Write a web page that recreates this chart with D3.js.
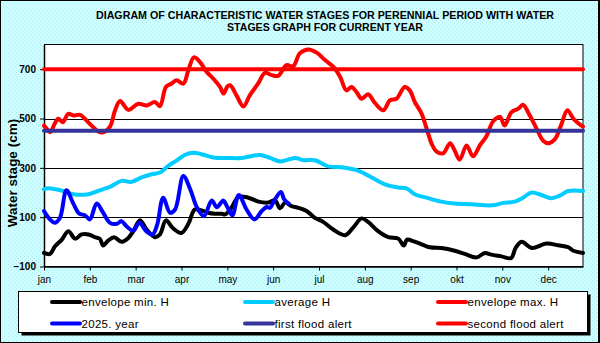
<!DOCTYPE html>
<html>
<head>
<meta charset="utf-8">
<script src="https://cdnjs.cloudflare.com/ajax/libs/d3/7.8.5/d3.min.js"></script>
<style>
  html, body { margin: 0; padding: 0; background: #fff; }
  svg { display: block; font-family: "Liberation Sans", Arial, sans-serif; }
</style>
</head>
<body>
<div id="chart"></div>
<script>
// month labels (tick at the start of each month)
const months = ["jan", "feb", "mar", "apr", "may", "jun", "jul", "aug", "sep", "okt", "nov", "dec"];

// [month position, water stage in cm]
const minH = [[0,-45],[0.13,-49],[0.24,-18],[0.39,9],[0.53,43],[0.68,13],[0.82,30],[0.97,30],[1.11,19],[1.22,12],[1.29,-15],[1.4,5],[1.53,19],[1.69,0],[1.84,16],[1.95,43],[2.09,87],[2.24,50],[2.42,19],[2.53,30],[2.66,87],[2.82,54],[3.0,36],[3.15,73],[3.29,131],[3.44,127],[3.58,118],[3.73,114],[3.88,114],[3.95,111],[4.09,138],[4.24,182],[4.46,179],[4.68,163],[4.89,159],[5.04,168],[5.15,136],[5.26,159],[5.4,145],[5.55,138],[5.73,125],[5.91,97],[6.09,81],[6.31,50],[6.57,27],[6.75,59],[6.93,95],[7.07,81],[7.29,43],[7.51,19],[7.73,13],[7.85,-15],[7.92,9],[8.05,3],[8.16,-4],[8.42,-22],[8.67,-25],[8.96,-36],[9.18,-49],[9.44,-63],[9.62,-45],[9.76,-52],[9.98,-59],[10.19,-66],[10.29,-25],[10.42,0],[10.64,-25],[10.96,-7],[11.22,-14],[11.44,-22],[11.55,-36],[11.76,-45]];

const avgH = [[0,213],[0.09,217],[0.42,206],[0.64,193],[0.97,193],[1.22,209],[1.44,223],[1.69,247],[1.91,243],[2.13,261],[2.35,274],[2.53,281],[2.71,308],[2.89,329],[3.08,353],[3.26,361],[3.48,353],[3.69,342],[4.02,340],[4.31,340],[4.71,352],[4.93,340],[5.15,326],[5.48,340],[5.66,331],[5.91,331],[6.2,306],[6.49,302],[6.86,288],[7.15,261],[7.44,233],[7.73,220],[7.91,217],[8.09,193],[8.38,177],[8.67,163],[8.96,155],[9.33,152],[9.62,148],[9.84,149],[10.02,158],[10.27,163],[10.45,179],[10.64,200],[10.85,190],[11.07,177],[11.25,187],[11.44,206],[11.76,206]];

const maxH = [[0,471],[0.06,458],[0.13,444],[0.24,481],[0.31,499],[0.41,485],[0.53,519],[0.64,512],[0.79,515],[0.89,499],[1.04,471],[1.19,447],[1.29,444],[1.44,467],[1.55,533],[1.66,571],[1.84,535],[2.06,560],[2.24,553],[2.42,567],[2.53,550],[2.66,628],[2.78,641],[2.89,655],[3.04,641],[3.15,696],[3.27,748],[3.4,730],[3.55,689],[3.69,662],[3.84,628],[3.92,601],[4.0,630],[4.06,635],[4.2,594],[4.35,549],[4.49,594],[4.68,644],[4.82,685],[4.97,676],[5.11,673],[5.29,716],[5.44,712],[5.58,764],[5.77,780],[5.95,767],[6.13,737],[6.31,710],[6.46,669],[6.6,614],[6.71,628],[6.82,607],[6.93,580],[7.07,598],[7.22,563],[7.4,533],[7.55,574],[7.69,580],[7.87,628],[7.98,614],[8.09,567],[8.24,519],[8.35,458],[8.46,397],[8.56,367],[8.71,359],[8.86,400],[8.96,370],[9.07,333],[9.22,391],[9.36,347],[9.51,391],[9.65,427],[9.8,489],[9.95,506],[10.05,472],[10.2,526],[10.35,540],[10.45,556],[10.6,512],[10.75,458],[10.89,410],[11.01,400],[11.15,417],[11.28,472],[11.42,533],[11.55,499],[11.65,482],[11.76,467]];

const year2025 = [[0,125],[0.13,91],[0.24,77],[0.35,98],[0.49,209],[0.64,155],[0.77,114],[0.89,108],[1.0,91],[1.15,155],[1.29,118],[1.44,77],[1.59,73],[1.69,84],[1.8,63],[1.95,46],[2.08,77],[2.23,43],[2.37,30],[2.47,70],[2.6,179],[2.75,118],[2.86,131],[3.04,267],[3.19,213],[3.34,138],[3.49,104],[3.66,168],[3.77,140],[3.91,168],[3.95,159],[4.01,138],[4.11,108],[4.25,190],[4.42,131],[4.59,91],[4.75,125],[4.86,141],[4.93,138],[5.02,166],[5.17,202],[5.24,172],[5.34,155]];

const firstAlert = 450;
const secondAlert = 700;

const yTicks = [-100, 100, 300, 500, 700];
const gridValues = [100, 300, 500, 700];

const W = 600, H = 343;
const plot = { left: 44, right: 583, top: 44.5, bottom: 266.5 };
const xEnd = 11.76;

const svg = d3.select("#chart").append("svg")
  .attr("width", W)
  .attr("height", H);

// speckled light cyan background
const defs = svg.append("defs");
const pat = defs.append("pattern")
  .attr("id", "speckle")
  .attr("width", 4).attr("height", 4)
  .attr("patternUnits", "userSpaceOnUse");
pat.append("rect").attr("width", 4).attr("height", 4).attr("fill", "#ccffff");
pat.append("rect").attr("x", 0).attr("y", 0).attr("width", 1).attr("height", 1).attr("fill", "#b2e6ec");
pat.append("rect").attr("x", 2).attr("y", 2).attr("width", 1).attr("height", 1).attr("fill", "#b2e6ec");

svg.append("rect")
  .attr("x", 0.5).attr("y", 0.5)
  .attr("width", W - 1.5).attr("height", H - 1)
  .attr("fill", "url(#speckle)")
  .attr("stroke", "#000")
  .attr("stroke-width", 1);
svg.append("line")
  .attr("x1", W - 1).attr("x2", W - 1).attr("y1", 0).attr("y2", H)
  .attr("stroke", "#000").attr("stroke-width", 2);

// title, two lines stretched to the header width
const title = svg.append("text")
  .attr("text-anchor", "middle")
  .attr("font-size", 10.5)
  .attr("font-weight", "bold")
  .attr("fill", "#000");
title.append("tspan").attr("x", 325).attr("y", 18.5)
  .attr("textLength", 458).attr("lengthAdjust", "spacingAndGlyphs")
  .text("DIAGRAM OF CHARACTERISTIC WATER STAGES FOR PERENNIAL PERIOD WITH WATER");
title.append("tspan").attr("x", 325).attr("y", 30.5)
  .attr("textLength", 196).attr("lengthAdjust", "spacingAndGlyphs")
  .text("STAGES GRAPH FOR CURRENT YEAR");

// scales
const x = d3.scaleLinear().domain([0, xEnd]).range([plot.left, plot.right]);
const y = d3.scaleLinear().domain([-100, 800]).range([plot.bottom, plot.top]);

// plot area
svg.append("rect")
  .attr("x", plot.left).attr("y", plot.top)
  .attr("width", plot.right - plot.left)
  .attr("height", plot.bottom - plot.top)
  .attr("fill", "#fff");

svg.append("g")
  .selectAll("line")
  .data(gridValues)
  .join("line")
  .attr("x1", plot.left).attr("x2", plot.right)
  .attr("y1", d => Math.round(y(d)) + 0.5)
  .attr("y2", d => Math.round(y(d)) + 0.5)
  .attr("stroke", "#000")
  .attr("stroke-width", 1);

svg.append("rect")
  .attr("x", plot.left + 0.5).attr("y", plot.top)
  .attr("width", plot.right - plot.left - 0.5)
  .attr("height", plot.bottom - plot.top)
  .attr("fill", "none")
  .attr("stroke", "#000")
  .attr("stroke-width", 1);

// axes
const xAxis = svg.append("g")
  .attr("transform", `translate(0,${plot.bottom})`)
  .call(d3.axisBottom(x)
    .tickValues(d3.range(months.length))
    .tickFormat(i => months[i])
    .tickSize(4)
    .tickSizeOuter(0));
xAxis.select(".domain").attr("stroke", "#000").attr("stroke-width", 1.5);
xAxis.selectAll("text")
  .attr("font-family", "Liberation Sans, Arial, sans-serif")
  .attr("font-size", 10)
  .attr("fill", "#000")
  .attr("dy", "0.9em");

const yAxis = svg.append("g")
  .attr("transform", `translate(${plot.left},0)`)
  .call(d3.axisLeft(y)
    .tickValues(yTicks)
    .tickSize(4)
    .tickSizeOuter(0)
    .tickPadding(4));
yAxis.select(".domain").attr("stroke", "#000").attr("stroke-width", 1.5);
yAxis.selectAll("text")
  .attr("font-family", "Liberation Sans, Arial, sans-serif")
  .attr("font-size", 10)
  .attr("font-weight", "bold")
  .attr("fill", "#000");

// series lines
const line = d3.line()
  .x(d => x(d[0]))
  .y(d => y(d[1]))
  .curve(d3.curveCatmullRom.alpha(0.5));

const series = [
  { name: "envelope min. H", data: minH, color: "#000000" },
  { name: "average H", data: avgH, color: "#00ccff" },
  { name: "envelope max. H", data: maxH, color: "#ff0000" },
  { name: "2025. year", data: year2025, color: "#0000ff" },
  { name: "first flood alert", data: [[0, firstAlert], [xEnd, firstAlert]], color: "#333399" },
  { name: "second flood alert", data: [[0, secondAlert], [xEnd, secondAlert]], color: "#ff0000" }
];

svg.append("g")
  .selectAll("path")
  .data(series)
  .join("path")
  .attr("d", d => line(d.data))
  .attr("fill", "none")
  .attr("stroke", d => d.color)
  .attr("stroke-width", 4)
  .attr("stroke-linejoin", "round")
  .attr("stroke-linecap", "round");

// y axis title
svg.append("text")
  .attr("transform", "translate(17,173) rotate(-90)")
  .attr("text-anchor", "middle")
  .attr("font-size", 13.5)
  .attr("font-weight", "bold")
  .attr("fill", "#000")
  .text("Water stage (cm)");

// legend
const lg = { x: 18.5, y: 291.5, w: 569, h: 41 };
svg.append("rect")
  .attr("x", lg.x + 3).attr("y", lg.y + 3)
  .attr("width", lg.w).attr("height", lg.h)
  .attr("fill", "#000");
svg.append("rect")
  .attr("x", lg.x).attr("y", lg.y)
  .attr("width", lg.w).attr("height", lg.h)
  .attr("fill", "#fff")
  .attr("stroke", "#000")
  .attr("stroke-width", 1);

const colX = [52, 245, 438];
const rowY = [302, 323.5];

series.forEach((s, i) => {
  const cx = colX[i % 3];
  const cy = rowY[Math.floor(i / 3)];
  const row = svg.append("g").attr("transform", `translate(${cx},${cy})`);
  row.append("line")
    .attr("x1", 0).attr("x2", 28)
    .attr("stroke", s.color)
    .attr("stroke-width", 4)
    .attr("stroke-linecap", "round");
  row.append("text")
    .attr("x", 29.5)
    .attr("dy", "0.36em")
    .attr("font-size", 11.5)
    .attr("letter-spacing", 0.3)
    .attr("fill", "#000")
    .text(s.name);
});
</script>
</body>
</html>
